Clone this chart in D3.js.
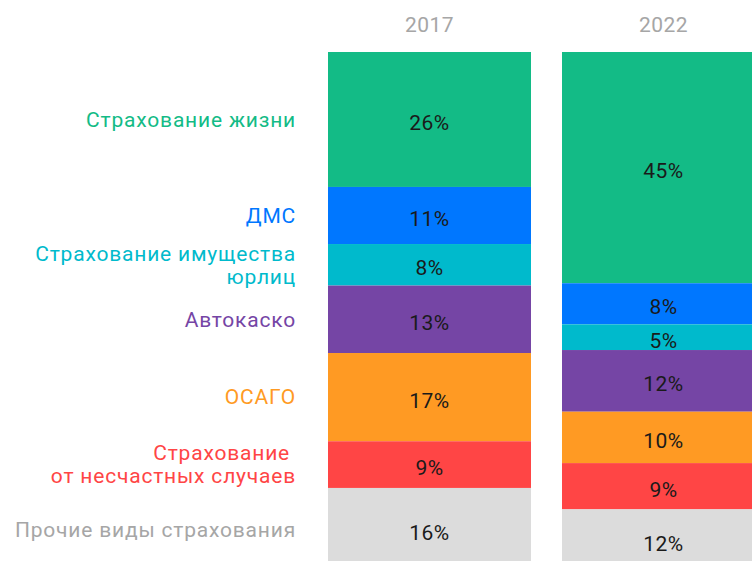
<!DOCTYPE html>
<html>
<head>
<meta charset="utf-8">
<script src="https://cdn.jsdelivr.net/npm/d3@7"></script>
<style>
  body { margin: 0; background: #fff; }
  svg { display: block; font-family: Roboto, "Noto Sans", sans-serif; }
</style>
</head>
<body>
<svg width="752" height="561"></svg>
<script>
// categories from top to bottom of each column
const categories = [
    ["Страхование жизни"],
    ["ДМС"],
    ["Страхование имущества", "юрлиц"],
    ["Автокаско"],
    ["ОСАГО"],
    ["Страхование ", "от несчастных случаев"],
    ["Прочие виды страхования"]
];
const colors = ["#13bb86", "#0077ff", "#00bacc", "#7545a5", "#ff9a23", "#ff4545", "#dcdcdc"];
const years = ["2017", "2022"];
const values2017 = [26, 11, 8, 13, 17, 9, 16];
const values2022 = [45, 8, 5, 12, 10, 9, 12];

const svg = d3.select("svg");

// Set the ranges
const x = d3.scaleBand().domain(years).range([328, 765]).paddingInner(0.1325);

// stack each year's values top to bottom, each column scaled to its own total
function stack(vals) {
    const y = d3.scaleLinear().domain([0, d3.sum(vals)]).range([52, 571]);
    let acc = 0;
    return vals.map((v, i) => {
        const d = { i: i, v: v, top: y(acc), bottom: y(acc + v) };
        acc += v;
        return d;
    });
}
const series = { "2017": stack(values2017), "2022": stack(values2022) };

years.forEach(function (yr) {
    const g = svg.append("g");
    g.selectAll("rect")
        .data(series[yr])
        .enter().append("rect")
        .attr("x", x(yr))
        .attr("width", x.bandwidth())
        .attr("y", d => d.top)
        .attr("height", d => d.bottom - d.top)
        .attr("fill", d => colors[d.i]);

    g.selectAll("text")
        .data(series[yr])
        .enter().append("text")
        .attr("x", x(yr) + x.bandwidth() / 2)
        .attr("y", d => (d.top + d.bottom) / 2)
        .attr("dy", "0.5em")
        .attr("text-anchor", "middle")
        .attr("font-size", 21)
        .attr("letter-spacing", 0.5)
        .attr("fill", "#1a1a1a")
        .text(d => d.v + "%");

    // year header
    svg.append("text")
        .attr("x", x(yr) + x.bandwidth() / 2)
        .attr("y", 25)
        .attr("dy", "0.35em")
        .attr("text-anchor", "middle")
        .attr("font-size", 21)
        .attr("letter-spacing", 0.5)
        .attr("fill", "#a6a6a6")
        .text(yr);
});

// category labels, lined up with the 2017 column
const lineH = 23;
svg.append("g").selectAll("text")
    .data(series["2017"])
    .enter().append("text")
    .attr("text-anchor", "end")
    .attr("font-size", 21)
    .attr("letter-spacing", 0.8)
    .attr("fill", d => d.i === 6 ? "#a6a6a6" : colors[d.i])
    .each(function (d) {
        const lines = categories[d.i];
        const cy = (d.top + d.bottom) / 2;
        d3.select(this).selectAll("tspan")
            .data(lines)
            .enter().append("tspan")
            .attr("x", 296)
            .attr("y", (l, k) => cy + (k - (lines.length - 1) / 2) * lineH)
            .attr("dy", "0.35em")
            .text(l => l);
    });
</script>
</body>
</html>
